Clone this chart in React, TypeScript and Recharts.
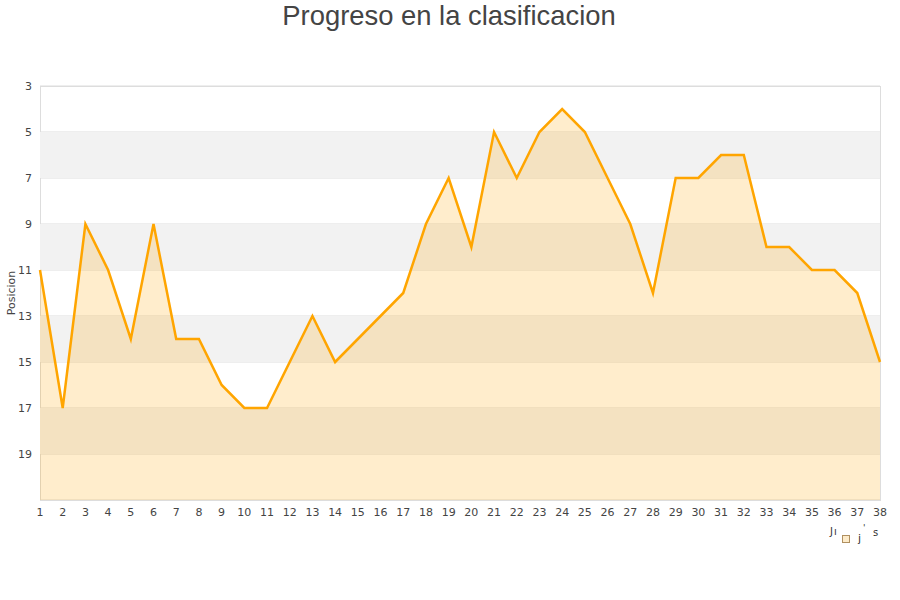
import React from 'react';
import {
    AreaChart,
    Area,
    XAxis,
    YAxis,
    CartesianGrid,
    ReferenceArea,
    Customized,
} from 'recharts';

const jornadas = Array.from({ length: 38 }, (_, i) => i + 1);
const posiciones = [
    11, 17, 9, 11, 14, 9, 14, 14, 16, 17, 17, 15, 13, 15, 14, 13, 12, 9, 7, 10,
    5, 7, 5, 4, 5, 7, 9, 12, 7, 7, 6, 6, 10, 10, 11, 11, 12, 15,
];
const yTicks = [3, 5, 7, 9, 11, 13, 15, 17, 19];
const bandas = [
    [5, 7],
    [9, 11],
    [13, 15],
    [17, 19],
];

const data = jornadas.map((j, i) => ({ jornada: j, posicion: posiciones[i] }));

const TICK_FONT = 'DejaVu Sans, sans-serif';

function Extras() {
    return (
        <g>
            <text x={449} y={25} textAnchor="middle" fontSize={27.4} fill="#444" fontFamily="Liberation Sans, Arial, sans-serif">
                Progreso en la clasificacion
            </text>
            <rect x={40.5} y={86.5} width={840} height={414} fill="none" stroke="#ddd" />
            {/* leyenda */}
            <text x={830} y={535} fontSize={10} fill="#333" fontFamily={TICK_FONT}>J</text>
            <text x={834} y={535} fontSize={10} fill="#333" fontFamily={TICK_FONT}>ı</text>
            <rect x={842.5} y={535.5} width={7} height={7} fill="#fdebc9" stroke="#b09060" />
            <text x={858} y={542} fontSize={11} fill="#333" fontFamily={TICK_FONT}>j</text>
            <text x={863} y={531} fontSize={9} fill="#333" fontFamily={TICK_FONT}>'</text>
            <text x={873} y={536} fontSize={10} fill="#333" fontFamily={TICK_FONT}>s</text>
        </g>
    );
}

export default function App() {
    return (
        <div style={{ position: 'absolute', left: 0, top: 0, width: 900, height: 600, background: '#fff' }}>
            <AreaChart width={900} height={600} data={data} margin={{ top: 86, right: 20, bottom: 70, left: 0 }}>
                {bandas.map(([a, b]) => (
                    <ReferenceArea key={a} y1={a} y2={b} fill="#f2f2f2" fillOpacity={1} stroke="none" />
                ))}
                <CartesianGrid vertical={false} stroke="#ddd" strokeDasharray="" />
                <XAxis
                    dataKey="jornada"
                    interval={0}
                    axisLine={false}
                    tickLine={false}
                    height={30}
                    tickMargin={2}
                    tick={{ fontSize: 11, fill: '#444', fontFamily: TICK_FONT }}
                />
                <YAxis
                    reversed
                    domain={[3, 21]}
                    ticks={yTicks}
                    width={40}
                    axisLine={false}
                    tickLine={false}
                    tick={{ fontSize: 11, fill: '#444', fontFamily: TICK_FONT }}
                    label={{
                        value: 'Posicion',
                        angle: -90,
                        position: 'insideLeft',
                        dx: 6,
                        style: { fontSize: 11, fill: '#444', fontFamily: TICK_FONT, textAnchor: 'middle' },
                    }}
                />
                <Area
                    type="linear"
                    dataKey="posicion"
                    name="Jornadas"
                    baseValue={21}
                    stroke="#ffa500"
                    strokeWidth={2.5}
                    fill="#ffa500"
                    fillOpacity={0.2}
                    dot={false}
                    activeDot={false}
                    isAnimationActive={false}
                />
                <Customized component={Extras} />
            </AreaChart>
        </div>
    );
}
